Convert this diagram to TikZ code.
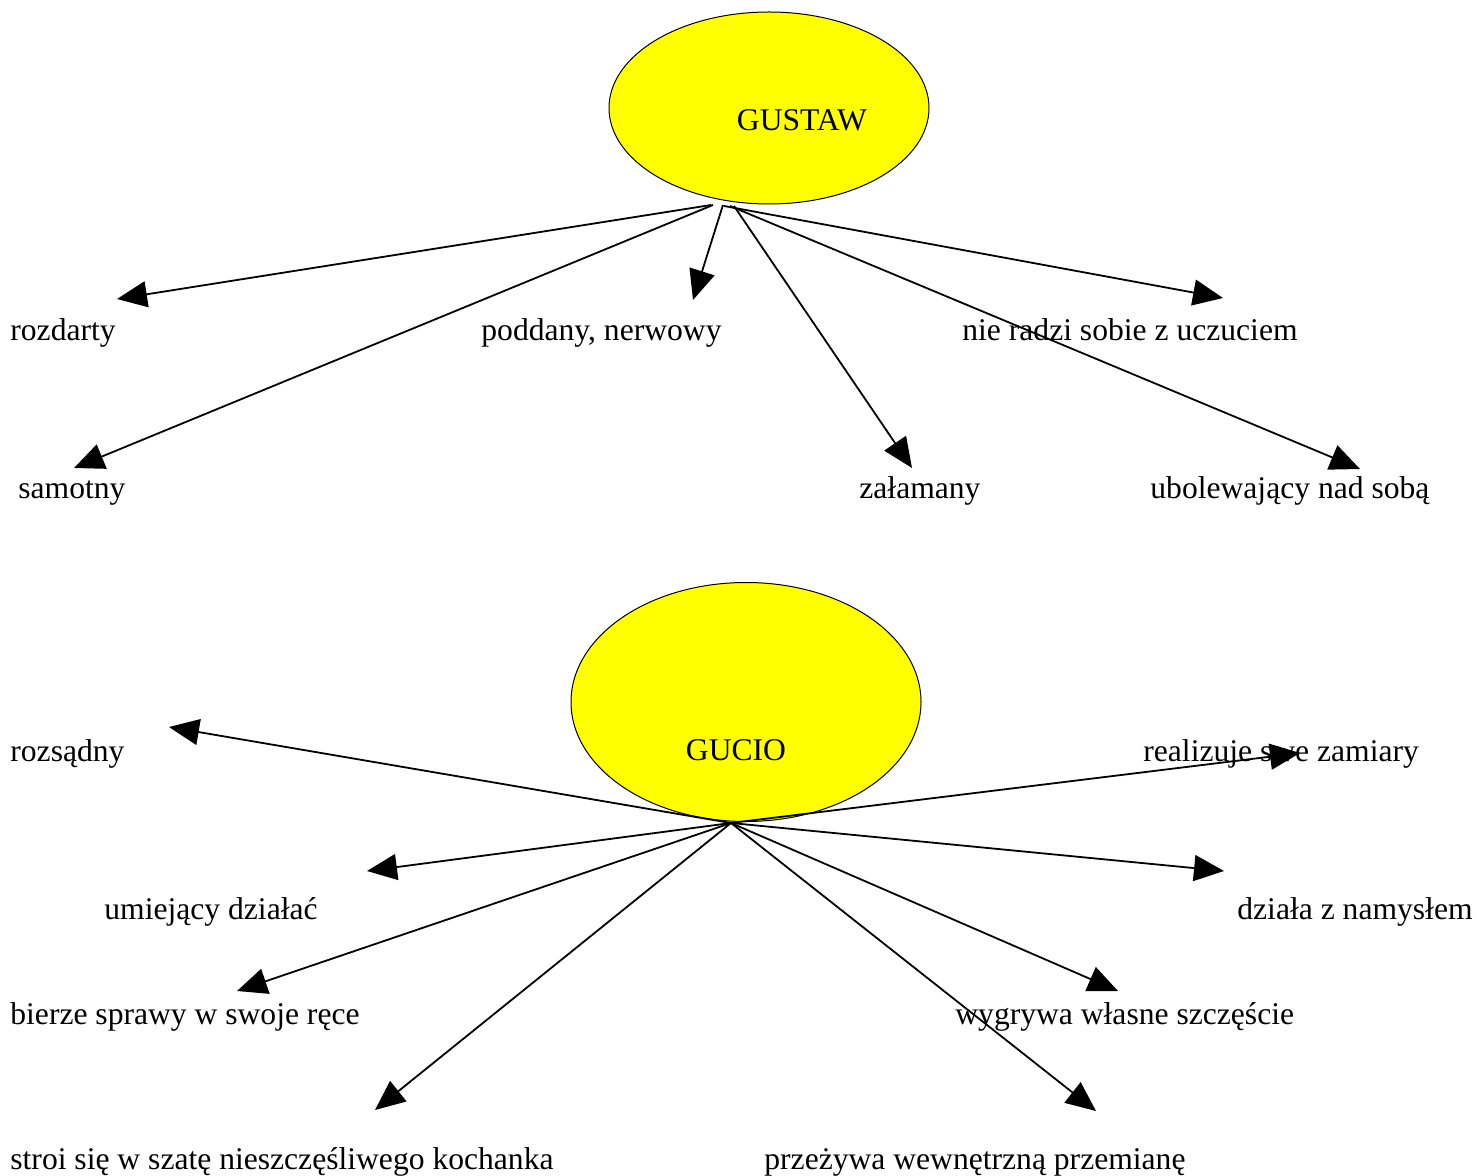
\documentclass[tikz,border=0pt]{standalone}
\usepackage{fontspec}
\setmainfont{Liberation Serif}
\usetikzlibrary{shapes.geometric,arrows.meta}
\definecolor{portraityellow}{RGB}{255,255,0}
\tikzset{
    person-ellipse/.style = {draw=black, fill=portraityellow, ellipse, line width=0.5pt, inner sep=0pt},
    person-name/.style = {inner sep=0pt, font=\fontsize{15.8}{19}\selectfont},
    trait/.style = {anchor=base west, inner sep=0pt, font=\fontsize{15.8}{19}\selectfont},
    trait-arrow/.style = {line width=0.9pt, -{Triangle[length=15pt, width=13pt]}},
}

\begin{document}
\begin{tikzpicture}[x=0.5pt, y=-0.5pt]
\useasboundingbox (0,0) rectangle (1477,1176);

% Gustaw
\node[person-ellipse, minimum width=160pt, minimum height=96pt] (gustaw) at (769,108) {};
\node[person-name] (gustaw-name) at (802,120) {GUSTAW};
\coordinate (gustaw-l) at (711,205);
\coordinate (gustaw-m) at (723,205);
\coordinate (gustaw-r) at (730,206);

\node[trait] (rozdarty) at (10,341) {rozdarty};
\node[trait] (poddany) at (481,341) {poddany, nerwowy};
\node[trait] (nieradzi) at (962,341) {nie radzi sobie z uczuciem};
\node[trait] (samotny) at (18,498) {samotny};
\node[trait] (zalamany) at (859,498) {załamany};
\node[trait] (ubolewajacy) at (1150,498) {ubolewający nad sobą};

\coordinate (rozdarty-tip) at (117,299);
\coordinate (poddany-tip) at (693,300);
\coordinate (nieradzi-tip) at (1223,298);
\coordinate (samotny-tip) at (74,468);
\coordinate (zalamany-tip) at (912,468);
\coordinate (ubolewajacy-tip) at (1360,469);

\draw[trait-arrow] (gustaw-l) -- (rozdarty-tip);
\draw[trait-arrow] ([xshift=1]gustaw-l) -- (samotny-tip);
\draw[trait-arrow] (gustaw-m) -- (poddany-tip);
\draw[trait-arrow] ([xshift=2]gustaw-r) -- (zalamany-tip);
\draw[trait-arrow] ([xshift=-3]gustaw-r) -- (nieradzi-tip);
\draw[trait-arrow] (gustaw-r) -- (ubolewajacy-tip);

% Gucio
\node[person-ellipse, minimum width=175pt, minimum height=119.5pt] (gucio) at (746,702) {};
\node[person-name] (gucio-name) at (736,750) {GUCIO};
\coordinate (gucio-root) at (731,823);

\node[trait] (rozsadny) at (10,761) {rozsądny};
\node[trait] (realizuje) at (1143,761) {realizuje swe zamiary};
\node[trait] (umiejacy) at (104,919) {umiejący działać};
\node[trait] (dziala) at (1237,919) {działa z namysłem};
\node[trait] (bierze) at (10,1024) {bierze sprawy w swoje ręce};
\node[trait] (wygrywa) at (955,1024) {wygrywa własne szczęście};
\node[trait] (stroi) at (10,1169) {stroi się w szatę nieszczęśliwego kochanka};
\node[trait] (przezywa) at (764,1169) {przeżywa wewnętrzną przemianę};

\coordinate (rozsadny-tip) at (169,727);
\coordinate (realizuje-tip) at (1300,753);
\coordinate (umiejacy-tip) at (367,871);
\coordinate (dziala-tip) at (1224,871);
\coordinate (bierze-tip) at (237,991);
\coordinate (wygrywa-tip) at (1118,991);
\coordinate (stroi-tip) at (375,1110);
\coordinate (przezywa-tip) at (1096,1111);

\draw[trait-arrow] (gucio-root) -- (rozsadny-tip);
\draw[trait-arrow] (gucio-root) -- (realizuje-tip);
\draw[trait-arrow] (gucio-root) -- (umiejacy-tip);
\draw[trait-arrow] (gucio-root) -- (dziala-tip);
\draw[trait-arrow] (gucio-root) -- (bierze-tip);
\draw[trait-arrow] (gucio-root) -- (wygrywa-tip);
\draw[trait-arrow] (gucio-root) -- (stroi-tip);
\draw[trait-arrow] (gucio-root) -- (przezywa-tip);
\end{tikzpicture}
\end{document}
